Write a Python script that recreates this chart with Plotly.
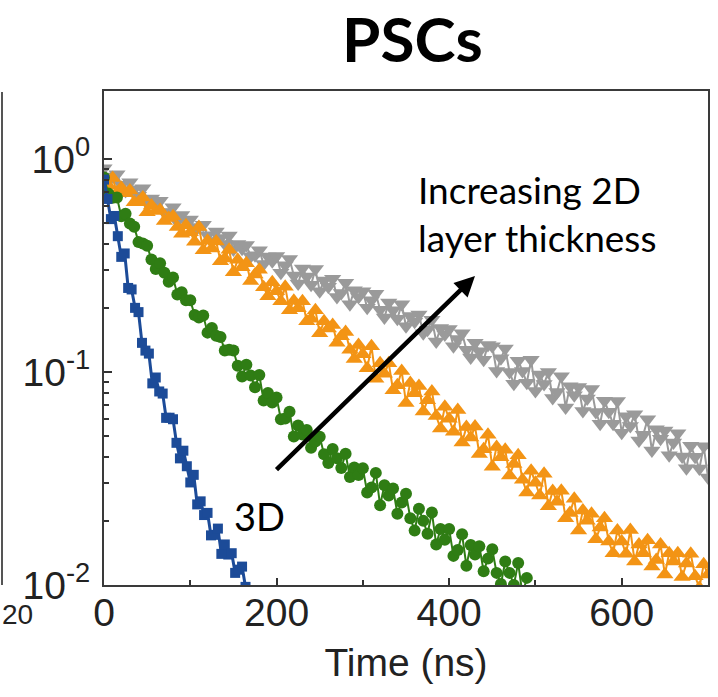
import plotly.graph_objects as go

# ---- data ----
t_gray = list(range(0, 701, 5))
gray = [0.905, 0.803, 0.828, 0.848, 0.757, 0.707, 0.777, 0.72, 0.672, 0.728,
        0.620, 0.653, 0.619, 0.637, 0.561, 0.564, 0.594, 0.507, 0.546, 0.515,
        0.52, 0.463, 0.479, 0.491, 0.438, 0.412, 0.456, 0.425, 0.399, 0.437,
        0.376, 0.399, 0.379, 0.394, 0.349, 0.353, 0.373, 0.321, 0.348, 0.331,
        0.350, 0.292, 0.317, 0.339, 0.284, 0.260, 0.306, 0.281, 0.257, 0.304,
        0.239, 0.269, 0.251, 0.274, 0.225, 0.235, 0.262, 0.208, 0.242, 0.225,
        0.239, 0.200, 0.217, 0.233, 0.196, 0.180, 0.212, 0.195, 0.178, 0.208,
        0.164, 0.183, 0.172, 0.186, 0.152, 0.158, 0.176, 0.139, 0.161, 0.150,
        0.159, 0.132, 0.143, 0.152, 0.127, 0.117, 0.137, 0.125, 0.114, 0.134,
        0.132, 0.101, 0.116, 0.129, 0.100, 0.088, 0.113, 0.101, 0.089, 0.114,
        0.0814, 0.0972, 0.0879, 0.100, 0.0754, 0.0806, 0.0955, 0.0682, 0.0858, 0.0777,
        0.0851, 0.0655, 0.075, 0.0833, 0.0648, 0.0572, 0.0732, 0.065, 0.0571, 0.073,
        0.0519, 0.062, 0.0558, 0.0634, 0.0477, 0.0508, 0.060, 0.0428, 0.0538, 0.0486,
        0.0531, 0.0407, 0.0466, 0.0516, 0.0401, 0.0353, 0.0451, 0.040, 0.0352, 0.0448,
        0.032]

t_orange = list(range(0, 701, 5))
orange = [0.805, 0.751, 0.813, 0.695, 0.732, 0.691, 0.712, 0.626, 0.627, 0.659,
          0.562, 0.605, 0.57, 0.576, 0.511, 0.528, 0.538, 0.479, 0.446, 0.489,
          0.453, 0.409, 0.479, 0.373, 0.413, 0.380, 0.410, 0.331, 0.341, 0.375,
          0.294, 0.336, 0.31, 0.324, 0.267, 0.287, 0.302, 0.250, 0.227, 0.264,
          0.239, 0.215, 0.251, 0.195, 0.216, 0.199, 0.215, 0.173, 0.178, 0.195,
          0.152, 0.173, 0.16, 0.166, 0.137, 0.147, 0.154, 0.127, 0.115, 0.134,
          0.121, 0.104, 0.132, 0.0929, 0.110, 0.098, 0.110, 0.0821, 0.0866, 0.101,
          0.0715, 0.0888, 0.0794, 0.0859, 0.0652, 0.0737, 0.081, 0.0621, 0.0543, 0.0686,
          0.0603, 0.0524, 0.0663, 0.0467, 0.0551, 0.0492, 0.0554, 0.0412, 0.0434, 0.0508,
          0.0359, 0.0445, 0.0398, 0.0431, 0.0327, 0.037, 0.0406, 0.0312, 0.0272, 0.0344,
          0.0302, 0.0263, 0.0333, 0.0234, 0.0276, 0.0246, 0.0277, 0.0206, 0.0218, 0.0254,
          0.018, 0.0224, 0.020, 0.0216, 0.0164, 0.0186, 0.0206, 0.016, 0.0141, 0.018,
          0.016, 0.014, 0.0181, 0.0129, 0.0155, 0.0141, 0.0162, 0.0122, 0.0131, 0.0155,
          0.0112, 0.0141, 0.0129, 0.0141, 0.0109, 0.0126, 0.014, 0.011, 0.0097, 0.0125,
          0.0112]

t_green = list(range(0, 491, 5))
green = [0.819, 0.688, 0.658, 0.660, 0.538, 0.553, 0.498, 0.480, 0.407, 0.401,
         0.391, 0.337, 0.304, 0.324, 0.292, 0.265, 0.278, 0.231, 0.237, 0.217,
         0.217, 0.185, 0.180, 0.184, 0.153, 0.161, 0.148, 0.146, 0.126, 0.127,
         0.126, 0.107, 0.0952, 0.108, 0.0962, 0.0847, 0.0967, 0.0735, 0.0797, 0.0719,
         0.0758, 0.060, 0.0605, 0.065, 0.0498, 0.0561, 0.0509, 0.0534, 0.0441, 0.0472,
         0.0496, 0.0411, 0.0374, 0.0435, 0.0394, 0.0354, 0.0413, 0.0321, 0.0356, 0.0328,
         0.0353, 0.0272, 0.0287, 0.0336, 0.0237, 0.0294, 0.0263, 0.0284, 0.0216, 0.0244,
         0.0268, 0.0206, 0.018, 0.0228, 0.020, 0.0174, 0.0219, 0.0155, 0.0183, 0.0163,
         0.0183, 0.0137, 0.0146, 0.0173, 0.0123, 0.0154, 0.0139, 0.0152, 0.0116, 0.0133,
         0.0147, 0.0114, 0.0101, 0.0129, 0.0114, 0.010, 0.0127, 0.009, 0.0108]

t_blue = list(range(0, 169, 4))
blue = [0.80, 0.649, 0.522, 0.540, 0.434, 0.347, 0.360, 0.248, 0.244, 0.200,
        0.191, 0.137, 0.126, 0.122, 0.0884, 0.0942, 0.081, 0.0792, 0.0609, 0.061,
        0.060, 0.0465, 0.0393, 0.0427, 0.0361, 0.0303, 0.0329, 0.0239, 0.0247, 0.0213,
        0.0218, 0.0171, 0.0172, 0.0184, 0.014, 0.0155, 0.0139, 0.0141, 0.0114, 0.0118,
        0.0122, 0.0098, 0.0087]

x_ticks = [0, 200, 400, 600]
x_minor = [100, 300, 500]
y_ticks = [0.01, 0.1, 1]
y_ticktext = ["10<sup>-2</sup>", "10<sup>-1</sup>", "10<sup>0</sup>"]
y_minor = [0.02, 0.03, 0.04, 0.05, 0.06, 0.07, 0.08, 0.09,
           0.2, 0.3, 0.4, 0.5, 0.6, 0.7, 0.8, 0.9]

series = [
    (t_gray, gray, "#9a9a9a", "triangle-down", 15, 2),
    (t_orange, orange, "#f39415", "triangle-up", 15, 2),
    (t_green, green, "#2f7d14", "circle", 12, 2),
    (t_blue, blue, "#1c4b98", "square", 10, 3),
]

fig = go.Figure()
for tx, ty, col, sym, ms, lw in series:
    fig.add_trace(go.Scatter(
        x=tx, y=ty, mode="lines+markers",
        line=dict(color=col, width=lw),
        marker=dict(color=col, size=ms, symbol=sym),
        showlegend=False, cliponaxis=True,
    ))

axis_font = dict(family="Liberation Sans, Arial, sans-serif", size=39, color="#222")

fig.update_layout(
    width=718, height=697,
    margin=dict(l=104, r=10, t=91, b=112),
    paper_bgcolor="white", plot_bgcolor="white",
    showlegend=False,
    xaxis=dict(
        range=[0, 700], tickvals=x_ticks, ticks="inside", ticklen=7,
        tickcolor="#333", tickwidth=1.5, automargin=False,
        minor=dict(ticks="inside", ticklen=5, tickvals=x_minor, tickcolor="#333"),
        showline=True, linecolor="#3a3a3a", linewidth=2, mirror=True,
        showgrid=False, zeroline=False, tickfont=axis_font, ticklabelstandoff=-8,
        title=dict(text="Time (ns)", font=axis_font, standoff=16),
    ),
    yaxis=dict(
        type="log", range=[-2, 0.319], tickvals=y_ticks, ticktext=y_ticktext,
        ticks="inside", ticklen=8, tickcolor="#333", tickwidth=1.5, automargin=False,
        minor=dict(ticks="inside", ticklen=5, tickvals=y_minor, tickcolor="#333", showgrid=False),
        showline=True, linecolor="#3a3a3a", linewidth=2, mirror=True,
        showgrid=False, zeroline=False, tickfont=axis_font, ticklabelstandoff=4,
    ),
)

def px(xp):
    return (xp - 104) / 604

def py(yp):
    return 1 - (yp - 91) / 494

fig.add_annotation(x=px(412), y=py(38), xref="paper", yref="paper",
                   text="<b>PSCs</b>", showarrow=False, xanchor="center", yanchor="middle",
                   font=dict(family="Lato, sans-serif", size=62, color="black"))
fig.add_annotation(x=px(475), y=py(276), xref="x domain", yref="y domain",
                   ax=px(275), ay=py(471), axref="x domain", ayref="y domain",
                   showarrow=True, arrowhead=2, arrowsize=0.9, arrowwidth=4.5, arrowcolor="black",
                   text="")
fig.add_annotation(x=px(259), y=py(516), xref="paper", yref="paper",
                   text="3D", showarrow=False, font=dict(family="Lato, sans-serif", size=38, color="black"),
                   xanchor="center", yanchor="middle")
fig.add_annotation(x=px(416), y=py(213), xref="paper", yref="paper",
                   text="Increasing 2D<br>layer thickness", showarrow=False, align="left",
                   font=dict(family="Lato, sans-serif", size=37, color="black"),
                   xanchor="left", yanchor="middle")

# fragment of the neighbouring panel at the far left edge
fig.add_shape(type="line", xref="paper", yref="paper",
              x0=px(2), x1=px(2), y0=py(585), y1=py(92),
              line=dict(color="#555", width=2))
fig.add_annotation(x=px(0), y=py(614), xref="paper", yref="paper",
                   text="20", showarrow=False, xanchor="left", yanchor="middle",
                   font=dict(family="Liberation Sans, Arial, sans-serif", size=28, color="#222"))

fig.write_html("out.html", config={"displayModeBar": False},
               post_script="document.body.style.margin='0';")
